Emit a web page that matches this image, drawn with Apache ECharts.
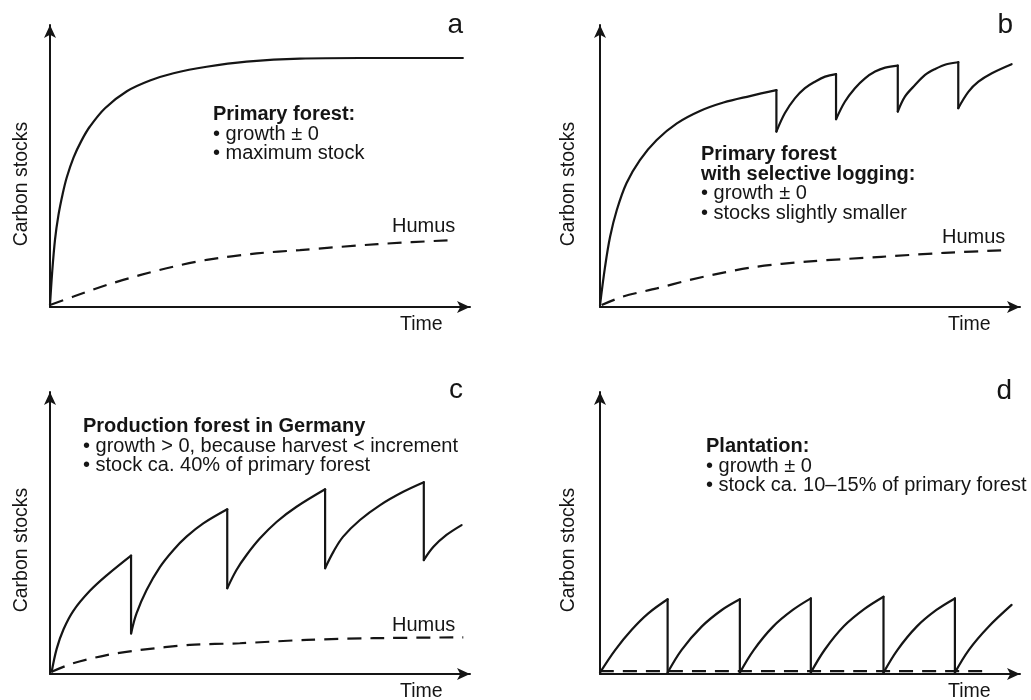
<!DOCTYPE html>
<html>
<head>
<meta charset="utf-8">
<script src="https://cdn.jsdelivr.net/npm/echarts@6/dist/echarts.min.js"></script>
<style>
html,body{margin:0;padding:0;background:#fff;}
#main{width:1031px;height:700px;}
</style>
</head>
<body>
<div id="main"></div>
<script>
// ---- Data (time 0..100, carbon stock 0..100) ----
const panelLetters = ['a', 'b', 'c', 'd'];

const aForest = [[0,0.7],[0.5,12],[1.2,24],[2.0,32.5],[3.0,40],[4.0,46],[5.6,53],[7.5,59],[9.5,64],[13.1,70.5],[18.3,76.5],[23.8,80.3],[29.4,82.9],[37.3,85.2],[46.8,87.0],[59.5,88.1],[73.8,88.3],[98.3,88.3]];
const aHumus = [[0,0.7],[5.6,3.7],[13.5,7.8],[21.4,11.3],[29.4,14.3],[37.3,16.7],[49.2,19.0],[59.5,20.2],[78,22.3],[96.8,23.8]];

const bForest = [[0,0.6],[1.2,14.2],[2.4,24.9],[4.0,34.4],[6.3,43.9],[9.5,52.1],[13.5,59.2],[18.3,65.1],[23.8,69.5],[29.4,72.5],[35.7,74.8],[42.0,76.9],[42.0,62.2],
  [44.0,68.7],[46.4,74.0],[48.8,77.6],[51.2,79.9],[53.6,81.7],[56.2,82.6],[56.2,66.6],
  [58.3,72.8],[60.7,77.6],[63.1,81.1],[65.5,83.5],[67.9,84.9],[70.9,85.6],[70.9,69.3],
  [72.6,74.6],[75.0,78.7],[77.4,82.3],[79.8,84.4],[82.5,86.1],[85.3,86.8],[85.3,70.5],
  [87.7,76.3],[90.1,79.9],[93.3,82.9],[98.0,86.1]];
const bHumus = [[0.4,0.7],[5.5,3.7],[13.5,6.6],[21.4,9.6],[29.4,12.2],[37.3,14.3],[49.2,16.1],[67,17.8],[82,19.2],[97.2,20.2]];

const cForest = [[0.4,0.8],[1.6,9.0],[3.2,15.8],[5.6,22.5],[9.5,29.5],[13.5,35.0],[19.3,42.0],[19.3,14.4],
  [20.6,21.5],[23.0,29.8],[26.2,38.0],[29.4,44.0],[32.5,48.7],[36.5,53.4],[42.2,58.4],[42.2,30.4],
  [44.4,36.9],[46.8,42.2],[50.0,48.1],[54.0,54.0],[58.7,59.3],[65.5,65.5],[65.5,37.5],
  [67.5,43.4],[69.8,48.7],[73.8,54.6],[78.6,59.9],[84.1,64.6],[89.0,68.0],[89.0,40.4],
  [91.3,45.1],[94.4,49.3],[98.0,52.8]];
const cHumus = [[0.4,0.8],[5.5,3.8],[13.5,6.7],[21.4,8.5],[33.3,10.3],[45.2,10.9],[61.1,12.1],[77,12.7],[98.4,13.0]];

const dForest = [[0,0.5],[3.6,8.5],[7.5,15.6],[11.5,21.5],[16.1,26.5],[16.1,0.5],
  [19.4,8.5],[24.2,16.8],[29.0,22.7],[33.3,26.5],[33.3,0.5],
  [36.6,8.5],[41.2,16.8],[45.9,22.7],[50.2,26.8],[50.2,0.5],
  [53.5,8.6],[58.1,17.0],[62.9,23.0],[67.5,27.4],[67.5,0.5],
  [70.8,8.5],[75.4,16.8],[80.1,22.7],[84.5,26.8],[84.5,0.5],
  [87.8,8.5],[92.4,16.6],[98.0,24.5]];
const dHumus = [[0,1],[93,1]];

const forestSeries = [aForest, bForest, cForest, dForest];
const humusSeries = [aHumus, bHumus, cHumus, dHumus];

const notesA = ['Primary forest:', '• growth ± 0', '• maximum stock'];
const notesB = ['Primary forest', 'with selective logging:', '• growth ± 0', '• stocks slightly smaller'];
const notesC = ['Production forest in Germany', '• growth > 0, because harvest < increment', '• stock ca. 40% of primary forest'];
const notesD = ['Plantation:', '• growth ± 0', '• stock ca. 10–15% of primary forest'];

// ---- Layout ----
const FONT = '"Liberation Sans", Arial, Helvetica, sans-serif';
const INK = '#151515';
const grids = [
  {left: 50, top: 25, width: 420, height: 282},
  {left: 600, top: 25, width: 420, height: 282},
  {left: 50, top: 392, width: 420, height: 282},
  {left: 600, top: 392, width: 420, height: 282}
];

function txt(x, baseline, s, size, opts) {
  opts = opts || {};
  return {
    type: 'text', x: x, y: baseline - 0.33 * size, silent: true,
    style: {
      text: s, fontSize: size, fontFamily: FONT, fontWeight: opts.bold ? 'bold' : 'normal',
      fill: INK, align: opts.align || 'left', verticalAlign: 'middle',
      textAlign: opts.align || 'left', textVerticalAlign: 'middle'
    }
  };
}

const graphics = [];
graphics.push(txt(463, 35, panelLetters[0], 28, {align: 'right'}));
graphics.push(txt(1013, 35, panelLetters[1], 28, {align: 'right'}));
graphics.push(txt(463, 400, panelLetters[2], 28, {align: 'right'}));
graphics.push(txt(1012, 401, panelLetters[3], 28, {align: 'right'}));
const noteDefs = [
  {lines: notesA, x: 213, y0: 121, bold: 1},
  {lines: notesB, x: 701, y0: 161, bold: 2},
  {lines: notesC, x: 83, y0: 433, bold: 1},
  {lines: notesD, x: 706, y0: 453, bold: 1}
];
noteDefs.forEach(function (n) {
  n.lines.forEach(function (l, i) {
    graphics.push(txt(n.x, n.y0 + i * 19.7, l, 20, {bold: i < n.bold}));
  });
});
graphics.push(txt(392, 233, 'Humus', 20));
graphics.push(txt(942, 244, 'Humus', 20));
graphics.push(txt(392, 632, 'Humus', 20));
graphics.push(txt(400, 331, 'Time', 19.5));
graphics.push(txt(948, 331, 'Time', 19.5));
graphics.push(txt(400, 698, 'Time', 19.5));
graphics.push(txt(948, 698, 'Time', 19.5));
[[22, 184], [569, 184], [22, 550], [569, 550]].forEach(function (p) {
  graphics.push({
    type: 'text', x: p[0], y: p[1], rotation: Math.PI / 2, silent: true,
    style: {text: 'Carbon stocks', fontSize: 19.5, fontFamily: FONT, fill: INK,
      align: 'center', verticalAlign: 'middle', textAlign: 'center', textVerticalAlign: 'middle'}
  });
});

const axisLine = {show: true, symbol: ['none', 'arrow'], symbolSize: [9, 13], lineStyle: {color: INK, width: 2}};
const xAxes = grids.map(function (g, i) {
  return {type: 'value', gridIndex: i, min: 0, max: 100, axisLine: axisLine,
    axisTick: {show: false}, axisLabel: {show: false}, splitLine: {show: false}};
});
const yAxes = grids.map(function (g, i) {
  return {type: 'value', gridIndex: i, min: 0, max: 100, axisLine: axisLine,
    axisTick: {show: false}, axisLabel: {show: false}, splitLine: {show: false}};
});

// split a sawtooth path into smooth growth arcs and straight harvest drops
function splitSawtooth(pts) {
  const arcs = [], drops = [];
  let cur = [pts[0]];
  for (let i = 1; i < pts.length; i++) {
    if (pts[i][0] === pts[i - 1][0]) {
      arcs.push(cur);
      drops.push([pts[i - 1], pts[i]]);
      cur = [pts[i]];
    } else {
      cur.push(pts[i]);
    }
  }
  arcs.push(cur);
  return {arcs: arcs, drops: drops};
}

const series = [];
forestSeries.forEach(function (d, i) {
  const parts = splitSawtooth(d);
  parts.arcs.forEach(function (arc) {
    series.push({type: 'line', xAxisIndex: i, yAxisIndex: i, data: arc,
      showSymbol: false, smooth: 0.35, clip: false, animation: false,
      lineStyle: {color: INK, width: 2.2, cap: 'round', join: 'round'}});
  });
  parts.drops.forEach(function (dr) {
    series.push({type: 'line', xAxisIndex: i, yAxisIndex: i, data: dr,
      showSymbol: false, smooth: false, clip: false, animation: false,
      lineStyle: {color: INK, width: 2.2, cap: 'round'}});
  });
});
humusSeries.forEach(function (d, i) {
  series.push({type: 'line', xAxisIndex: i, yAxisIndex: i, data: d,
    showSymbol: false, smooth: 0.3, clip: false, animation: false,
    lineStyle: {color: INK, width: 2.2, type: [14, 9]}});
});

const chart = echarts.init(document.getElementById('main'), null, {renderer: 'canvas'});
chart.setOption({
  backgroundColor: '#ffffff',
  animation: false,
  grid: grids,
  xAxis: xAxes,
  yAxis: yAxes,
  series: series,
  graphic: graphics
});
</script>
</body>
</html>
